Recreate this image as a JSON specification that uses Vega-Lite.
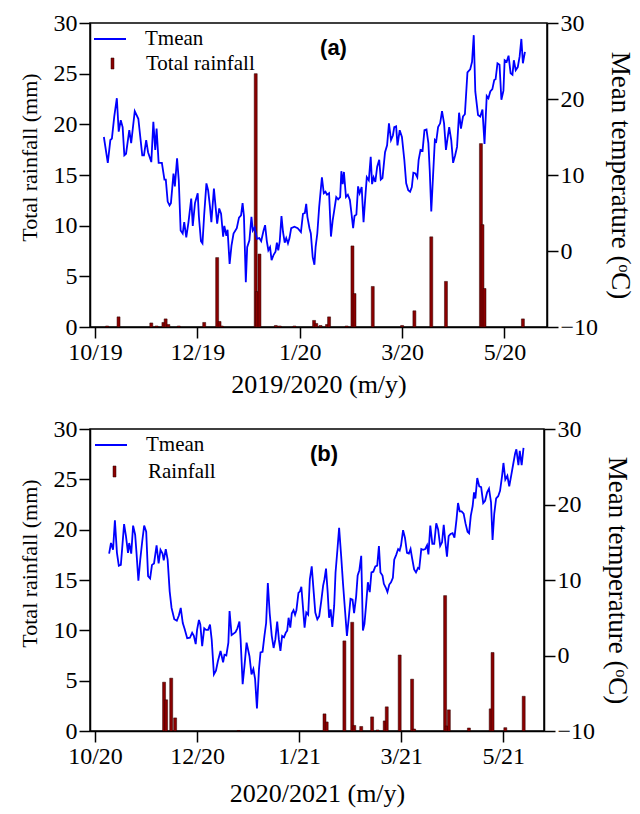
{
  "$schema": "https://vega.github.io/schema/vega-lite/v6.json",
  "background": "white",
  "padding": {"left": 17, "top": 10, "right": 5, "bottom": 5},
  "config": {
    "font": "Liberation Serif",
    "view": {"stroke": "black", "strokeWidth": 1.5},
    "axis": {
      "labelFont": "Liberation Serif", "titleFont": "Liberation Serif",
      "labelFontSize": 24, "titleFontSize": 23, "titleFontWeight": "normal",
      "labelColor": "black", "titleColor": "black", "domainColor": "black", "tickColor": "black",
      "grid": false, "tickSize": 11, "domainWidth": 1.5, "tickWidth": 1.5, "labelPadding": 2
    },
    "legend": {"labelFont": "Liberation Serif", "labelFontSize": 21, "labelColor": "black", "padding": 0, "title": null}
  },
  "spacing": 18,
  "resolve": {"scale": {"x": "independent", "y": "independent", "fill": "independent", "stroke": "independent"}},
  "datasets": {
    "tempA": [
      {"d":5.2,"t":15.0},{"d":7.5,"t":11.6},{"d":9.0,"t":14.6},{"d":9.9,"t":14.8},{"d":11.3,"t":17.7},{"d":12.8,"t":20.1},{"d":13.9,"t":15.7},{"d":15.1,"t":17.2},{"d":16.2,"t":16.3},{"d":17.2,"t":12.6},{"d":18.2,"t":12.8},{"d":20.1,"t":15.9},{"d":21.2,"t":14.2},{"d":23.3,"t":18.4},{"d":25.4,"t":17.4},{"d":27.7,"t":12.6},{"d":28.7,"t":12.6},{"d":30.0,"t":14.6},{"d":31.1,"t":13.0},{"d":33.0,"t":11.7},{"d":34.2,"t":17.0},{"d":35.3,"t":13.3},{"d":36.1,"t":16.1},{"d":37.3,"t":11.6},{"d":39.2,"t":11.6},{"d":40.7,"t":9.4},{"d":41.5,"t":9.4},{"d":42.6,"t":6.5},{"d":43.7,"t":6.0},{"d":44.5,"t":6.3},{"d":46.0,"t":10.2},{"d":46.8,"t":8.5},{"d":48.1,"t":12.2},{"d":49.1,"t":9.3},{"d":50.2,"t":2.7},{"d":51.4,"t":2.3},{"d":52.3,"t":3.8},{"d":53.5,"t":1.8},{"d":54.8,"t":3.8},{"d":56.4,"t":6.9},{"d":57.3,"t":3.3},{"d":58.6,"t":6.3},{"d":60.2,"t":7.6},{"d":60.9,"t":4.5},{"d":62.1,"t":1.3},{"d":63.0,"t":1.0},{"d":64.0,"t":4.8},{"d":65.3,"t":8.9},{"d":66.3,"t":8.0},{"d":67.4,"t":5.8},{"d":68.2,"t":3.8},{"d":69.7,"t":8.2},{"d":71.6,"t":3.6},{"d":72.8,"t":5.6},{"d":73.9,"t":4.9},{"d":75.1,"t":1.9},{"d":75.8,"t":3.3},{"d":77.0,"t":2.0},{"d":77.7,"t":2.8},{"d":78.9,"t":-1.7},{"d":80.0,"t":0.7},{"d":81.2,"t":2.3},{"d":83.1,"t":3.0},{"d":84.4,"t":4.4},{"d":85.6,"t":4.7},{"d":86.5,"t":6.3},{"d":87.3,"t":4.6},{"d":88.4,"t":-4.1},{"d":89.2,"t":0.5},{"d":90.5,"t":1.4},{"d":91.7,"t":4.5},{"d":92.5,"t":2.7},{"d":93.6,"t":3.1},{"d":94.9,"t":1.6},{"d":96.3,"t":1.7},{"d":97.4,"t":1.3},{"d":98.8,"t":2.7},{"d":99.7,"t":3.4},{"d":100.7,"t":1.3},{"d":101.6,"t":0.1},{"d":102.6,"t":0.5},{"d":103.5,"t":-1.2},{"d":104.7,"t":-0.5},{"d":105.8,"t":-0.1},{"d":106.6,"t":1.1},{"d":107.4,"t":0.1},{"d":108.3,"t":1.3},{"d":109.3,"t":4.6},{"d":110.2,"t":2.5},{"d":111.2,"t":1.1},{"d":112.1,"t":1.7},{"d":113.1,"t":1.0},{"d":114.0,"t":1.7},{"d":115.0,"t":3.0},{"d":116.9,"t":3.2},{"d":118.8,"t":3.0},{"d":120.7,"t":2.5},{"d":121.9,"t":4.9},{"d":123.0,"t":5.0},{"d":123.8,"t":6.2},{"d":124.5,"t":4.5},{"d":125.7,"t":3.0},{"d":126.5,"t":2.3},{"d":127.6,"t":-0.8},{"d":128.6,"t":-1.8},{"d":129.3,"t":0.5},{"d":130.3,"t":2.3},{"d":131.4,"t":5.8},{"d":133.0,"t":9.7},{"d":134.1,"t":7.6},{"d":135.1,"t":7.8},{"d":136.0,"t":7.4},{"d":137.2,"t":7.6},{"d":138.3,"t":1.9},{"d":139.3,"t":4.0},{"d":140.2,"t":5.3},{"d":141.4,"t":7.1},{"d":142.5,"t":6.8},{"d":143.7,"t":7.1},{"d":144.4,"t":10.5},{"d":145.2,"t":8.8},{"d":145.9,"t":10.4},{"d":147.1,"t":7.1},{"d":148.2,"t":7.4},{"d":149.4,"t":6.7},{"d":150.3,"t":5.0},{"d":151.3,"t":3.0},{"d":152.1,"t":4.6},{"d":153.2,"t":4.8},{"d":154.2,"t":8.5},{"d":155.1,"t":7.6},{"d":156.3,"t":8.4},{"d":157.4,"t":3.8},{"d":158.6,"t":7.6},{"d":159.3,"t":9.7},{"d":160.5,"t":9.3},{"d":161.6,"t":12.4},{"d":162.4,"t":8.8},{"d":163.3,"t":9.7},{"d":164.3,"t":9.1},{"d":165.4,"t":11.1},{"d":166.6,"t":12.0},{"d":167.5,"t":9.4},{"d":168.5,"t":9.6},{"d":170.0,"t":13.0},{"d":171.2,"t":13.9},{"d":172.3,"t":16.8},{"d":173.5,"t":14.6},{"d":174.6,"t":15.2},{"d":175.4,"t":16.3},{"d":176.5,"t":16.4},{"d":177.3,"t":13.9},{"d":178.6,"t":15.9},{"d":179.9,"t":15.0},{"d":181.3,"t":12.0},{"d":182.4,"t":8.9},{"d":183.6,"t":8.0},{"d":184.7,"t":7.8},{"d":185.7,"t":8.4},{"d":186.6,"t":10.3},{"d":187.8,"t":10.2},{"d":188.9,"t":9.7},{"d":189.7,"t":12.0},{"d":190.8,"t":13.3},{"d":192.0,"t":13.2},{"d":193.1,"t":15.9},{"d":194.3,"t":16.0},{"d":195.4,"t":14.2},{"d":196.2,"t":10.6},{"d":197.1,"t":5.2},{"d":198.1,"t":9.7},{"d":199.2,"t":14.6},{"d":200.0,"t":14.4},{"d":201.1,"t":16.3},{"d":202.3,"t":16.8},{"d":203.4,"t":18.4},{"d":204.6,"t":16.8},{"d":205.7,"t":13.3},{"d":206.5,"t":14.6},{"d":207.6,"t":16.3},{"d":208.8,"t":14.6},{"d":209.9,"t":11.6},{"d":211.1,"t":12.6},{"d":212.2,"t":13.7},{"d":213.4,"t":18.2},{"d":214.5,"t":16.1},{"d":215.7,"t":17.7},{"d":216.8,"t":18.0},{"d":218.3,"t":23.5},{"d":219.9,"t":23.9},{"d":221.0,"t":24.9},{"d":222.0,"t":28.4},{"d":222.9,"t":21.0},{"d":224.5,"t":17.9},{"d":225.8,"t":17.7},{"d":227.1,"t":18.6},{"d":228.3,"t":14.1},{"d":229.6,"t":20.4},{"d":230.6,"t":20.1},{"d":231.7,"t":21.0},{"d":232.9,"t":21.3},{"d":234.0,"t":22.5},{"d":234.8,"t":22.6},{"d":235.9,"t":24.7},{"d":237.1,"t":24.5},{"d":238.2,"t":19.9},{"d":239.4,"t":21.1},{"d":240.1,"t":25.1},{"d":241.3,"t":24.9},{"d":242.4,"t":25.7},{"d":243.6,"t":23.4},{"d":244.7,"t":23.2},{"d":245.5,"t":25.1},{"d":246.6,"t":23.8},{"d":247.8,"t":24.2},{"d":248.9,"t":25.6},{"d":249.9,"t":27.9},{"d":250.8,"t":24.7},{"d":252.0,"t":26.2}
    ],
    "rainA": [
      {"d":7.1,"r":0.1},{"d":13.8,"r":1.0},{"d":33.0,"r":0.4},{"d":36.1,"r":0.1},{"d":40.1,"r":0.45},{"d":41.4,"r":0.8},{"d":43.0,"r":0.25},{"d":49.1,"r":0.1},{"d":64.0,"r":0.45},{"d":71.6,"r":6.85},{"d":73.0,"r":0.55},{"d":74.3,"r":0.1},{"d":94.2,"r":25.0},{"d":94.9,"r":3.5},{"d":96.4,"r":7.2},{"d":106.0,"r":0.15},{"d":108.3,"r":0.1},{"d":116.9,"r":0.1},{"d":128.4,"r":0.65},{"d":129.7,"r":0.35},{"d":132.2,"r":0.15},{"d":136.0,"r":0.25},{"d":137.2,"r":1.0},{"d":147.5,"r":0.1},{"d":150.9,"r":8.0},{"d":152.1,"r":3.3},{"d":162.8,"r":4.0},{"d":180.0,"r":0.15},{"d":187.2,"r":1.6},{"d":197.1,"r":8.9},{"d":205.7,"r":4.5},{"d":226.2,"r":18.1},{"d":227.1,"r":10.1},{"d":228.3,"r":3.8},{"d":250.8,"r":0.8}
    ],
    "tempB": [
      {"d":8.3,"t":13.5},{"d":9.4,"t":14.9},{"d":10.6,"t":14.0},{"d":11.7,"t":17.9},{"d":12.9,"t":13.6},{"d":14.0,"t":11.9},{"d":15.2,"t":12.0},{"d":17.1,"t":17.4},{"d":18.2,"t":15.8},{"d":19.4,"t":13.6},{"d":20.1,"t":14.9},{"d":21.3,"t":13.5},{"d":22.4,"t":17.2},{"d":23.6,"t":16.0},{"d":24.4,"t":13.6},{"d":25.5,"t":9.9},{"d":26.6,"t":12.7},{"d":27.8,"t":15.2},{"d":28.9,"t":17.2},{"d":30.1,"t":16.4},{"d":31.2,"t":10.5},{"d":32.4,"t":10.2},{"d":33.5,"t":12.0},{"d":34.7,"t":12.2},{"d":36.2,"t":14.6},{"d":37.4,"t":12.2},{"d":38.5,"t":14.0},{"d":39.7,"t":13.5},{"d":40.4,"t":12.6},{"d":41.6,"t":14.1},{"d":42.7,"t":12.7},{"d":43.9,"t":8.5},{"d":45.0,"t":6.3},{"d":46.6,"t":4.8},{"d":48.1,"t":4.6},{"d":49.3,"t":5.3},{"d":50.4,"t":6.3},{"d":51.6,"t":4.3},{"d":52.7,"t":3.5},{"d":54.2,"t":2.3},{"d":55.8,"t":2.35},{"d":57.1,"t":3.0},{"d":58.1,"t":2.6},{"d":59.2,"t":1.5},{"d":60.0,"t":3.4},{"d":61.1,"t":4.7},{"d":61.9,"t":4.1},{"d":63.0,"t":1.25},{"d":64.2,"t":3.6},{"d":65.3,"t":3.4},{"d":66.5,"t":3.4},{"d":67.6,"t":4.1},{"d":68.6,"t":2.1},{"d":69.9,"t":-2.5},{"d":71.1,"t":-2.0},{"d":72.2,"t":-0.8},{"d":73.8,"t":0.6},{"d":75.3,"t":-0.9},{"d":76.1,"t":0.1},{"d":77.2,"t":0.0},{"d":78.4,"t":1.7},{"d":79.1,"t":5.9},{"d":80.3,"t":2.7},{"d":82.6,"t":3.1},{"d":83.7,"t":3.6},{"d":84.9,"t":4.5},{"d":85.6,"t":2.1},{"d":86.8,"t":-3.8},{"d":87.9,"t":-1.3},{"d":89.1,"t":1.7},{"d":90.8,"t":-0.1},{"d":92.0,"t":-2.5},{"d":93.1,"t":-1.8},{"d":94.1,"t":-3.1},{"d":95.2,"t":-7.0},{"d":96.4,"t":-1.8},{"d":97.3,"t":0.4},{"d":98.5,"t":0.5},{"d":99.6,"t":2.6},{"d":100.6,"t":4.3},{"d":101.6,"t":9.6},{"d":102.7,"t":5.6},{"d":103.9,"t":2.6},{"d":105.0,"t":1.0},{"d":106.0,"t":2.1},{"d":107.1,"t":4.5},{"d":108.1,"t":2.1},{"d":109.0,"t":0.6},{"d":110.0,"t":2.6},{"d":111.1,"t":2.4},{"d":112.1,"t":3.0},{"d":113.0,"t":3.3},{"d":113.8,"t":5.0},{"d":114.8,"t":3.7},{"d":115.7,"t":5.6},{"d":116.7,"t":6.0},{"d":117.6,"t":5.4},{"d":118.4,"t":6.0},{"d":119.6,"t":8.3},{"d":120.5,"t":8.5},{"d":121.3,"t":9.1},{"d":123.2,"t":3.7},{"d":124.2,"t":5.7},{"d":125.3,"t":5.4},{"d":126.3,"t":10.1},{"d":127.4,"t":11.8},{"d":128.6,"t":8.3},{"d":129.5,"t":5.7},{"d":130.7,"t":4.8},{"d":131.8,"t":5.2},{"d":133.0,"t":7.2},{"d":134.1,"t":9.25},{"d":134.9,"t":10.1},{"d":135.8,"t":11.5},{"d":136.8,"t":8.3},{"d":137.6,"t":5.0},{"d":138.5,"t":6.1},{"d":139.5,"t":3.8},{"d":140.6,"t":6.6},{"d":141.4,"t":11.0},{"d":142.5,"t":14.0},{"d":143.5,"t":16.9},{"d":144.7,"t":13.2},{"d":145.8,"t":9.5},{"d":147.0,"t":5.9},{"d":148.1,"t":2.6},{"d":149.1,"t":4.8},{"d":150.2,"t":7.5},{"d":151.4,"t":7.4},{"d":152.3,"t":5.6},{"d":153.5,"t":7.8},{"d":154.4,"t":10.6},{"d":155.4,"t":11.3},{"d":156.5,"t":13.2},{"d":157.5,"t":3.3},{"d":158.4,"t":4.2},{"d":159.4,"t":6.8},{"d":160.4,"t":9.7},{"d":161.5,"t":8.4},{"d":162.5,"t":11.0},{"d":163.6,"t":11.1},{"d":164.8,"t":11.8},{"d":165.9,"t":11.9},{"d":166.9,"t":14.5},{"d":167.8,"t":11.0},{"d":169.0,"t":10.6},{"d":169.8,"t":9.5},{"d":170.9,"t":9.0},{"d":171.9,"t":8.4},{"d":173.0,"t":9.4},{"d":174.0,"t":9.7},{"d":175.1,"t":10.3},{"d":175.9,"t":12.7},{"d":177.0,"t":13.3},{"d":178.2,"t":14.1},{"d":179.1,"t":13.9},{"d":179.9,"t":14.6},{"d":181.1,"t":16.6},{"d":182.2,"t":15.6},{"d":183.4,"t":13.6},{"d":184.5,"t":13.5},{"d":185.5,"t":14.1},{"d":186.4,"t":12.9},{"d":187.6,"t":11.4},{"d":188.7,"t":11.0},{"d":189.9,"t":11.6},{"d":190.6,"t":11.5},{"d":191.8,"t":14.1},{"d":192.9,"t":14.0},{"d":194.1,"t":14.1},{"d":195.2,"t":14.6},{"d":196.0,"t":13.4},{"d":197.1,"t":17.2},{"d":198.3,"t":14.8},{"d":199.4,"t":14.8},{"d":200.6,"t":17.5},{"d":201.7,"t":16.7},{"d":202.9,"t":14.5},{"d":204.0,"t":15.0},{"d":205.0,"t":17.3},{"d":206.0,"t":14.9},{"d":206.9,"t":13.1},{"d":207.9,"t":15.8},{"d":209.0,"t":16.1},{"d":210.2,"t":16.2},{"d":211.3,"t":15.6},{"d":212.5,"t":18.0},{"d":213.4,"t":20.2},{"d":214.4,"t":19.1},{"d":215.5,"t":19.1},{"d":216.7,"t":18.8},{"d":217.8,"t":17.5},{"d":219.0,"t":16.4},{"d":219.9,"t":16.2},{"d":220.9,"t":18.5},{"d":222.0,"t":19.8},{"d":222.8,"t":21.6},{"d":223.6,"t":20.8},{"d":224.7,"t":23.5},{"d":225.9,"t":22.4},{"d":227.0,"t":22.3},{"d":228.2,"t":20.2},{"d":229.3,"t":20.5},{"d":230.5,"t":21.6},{"d":231.6,"t":22.1},{"d":232.8,"t":20.3},{"d":233.7,"t":15.3},{"d":234.7,"t":18.8},{"d":235.8,"t":20.8},{"d":237.0,"t":21.1},{"d":238.1,"t":21.8},{"d":239.3,"t":23.8},{"d":240.1,"t":25.5},{"d":241.2,"t":23.3},{"d":242.4,"t":23.8},{"d":243.5,"t":22.4},{"d":244.7,"t":23.9},{"d":245.8,"t":25.3},{"d":247.0,"t":26.8},{"d":247.7,"t":27.3},{"d":248.9,"t":25.2},{"d":249.7,"t":27.1},{"d":250.8,"t":25.2},{"d":251.9,"t":27.5}
    ],
    "rainB": [
      {"d":40.6,"r":4.85},{"d":41.8,"r":3.1},{"d":44.8,"r":5.25},{"d":47.1,"r":1.3},{"d":84.5,"r":0.05},{"d":134.9,"r":1.7},{"d":136.2,"r":0.9},{"d":146.6,"r":8.95},{"d":151.2,"r":10.8},{"d":152.4,"r":0.55},{"d":156.5,"r":0.45},{"d":162.9,"r":1.4},{"d":166.1,"r":0.1},{"d":170.3,"r":1.0},{"d":171.5,"r":2.4},{"d":179.1,"r":7.55},{"d":186.4,"r":5.15},{"d":187.6,"r":0.2},{"d":205.8,"r":13.45},{"d":206.7,"r":0.5},{"d":208.0,"r":2.1},{"d":219.8,"r":0.3},{"d":232.6,"r":2.2},{"d":233.7,"r":7.8},{"d":241.2,"r":0.33},{"d":252.0,"r":3.45}
    ]
  },
  "vconcat": [
    {
      "width": 457, "height": 304,
      "title": {"text": "(a)", "font": "Liberation Sans", "fontSize": 22, "fontWeight": "bold", "color": "black", "anchor": "middle", "dx": 15, "offset": -49},
      "layer": [
        {
          "data": {"name": "rainA"},
          "mark": {"type": "bar", "size": 3, "stroke": "#2a0000", "strokeWidth": 0.5},
          "encoding": {
            "x": {"field": "d", "type": "quantitative", "scale": {"domain": [0, 262], "nice": false, "zero": false},
                  "axis": {"values": [0, 60, 120, 180, 240], "labelExpr": "['10/19','12/19','1/20','3/20','5/20'][round(datum.value/60)]", "title": "2019/2020 (m/y)", "titleFontSize": 26, "titlePadding": 7, "labelFlush": false}},
            "y": {"field": "r", "type": "quantitative", "scale": {"domain": [0, 30], "nice": false},
                  "axis": {"values": [0, 5, 10, 15, 20, 25, 30], "title": "Total rainfall (mm)", "titleFontSize": 22, "titleY": 134, "orient": "left", "titlePadding": 12, "labelFlush": false}},
            "fill": {"datum": "Total rainfall", "type": "nominal", "scale": {"range": ["#8B0000"]},
                     "legend": {"orient": "none", "legendX": 12, "legendY": 30, "symbolType": "M-0.23,-0.85H0.23V0.85H-0.23Z", "symbolSize": 169, "labelOffset": 23, "symbolStrokeColor": "#2a0000", "symbolStrokeWidth": 0.5}}
          }
        },
        {
          "data": {"name": "tempA"},
          "mark": {"type": "line", "strokeWidth": 1.8},
          "encoding": {
            "x": {"field": "d", "type": "quantitative"},
            "y": {"field": "t", "type": "quantitative", "scale": {"domain": [-10, 30], "nice": false},
                  "axis": {"values": [-10, 0, 10, 20, 30], "title": "Mean temperature (ᵒC)", "titleFontSize": 27, "orient": "right", "titlePadding": 8, "labelFlush": false}},
            "stroke": {"datum": "Tmean", "type": "nominal", "scale": {"range": ["#0000FF"]},
                       "legend": {"orient": "none", "legendX": 3, "legendY": -1, "symbolType": "stroke", "symbolSize": 1024, "symbolStrokeWidth": 2, "labelOffset": 18}}
          }
        }
      ],
      "resolve": {"scale": {"y": "independent"}}
    },
    {
      "width": 454, "height": 302,
      "title": {"text": "(b)", "font": "Liberation Sans", "fontSize": 22, "fontWeight": "bold", "color": "black", "anchor": "middle", "dx": 7, "offset": -49},
      "layer": [
        {
          "data": {"name": "rainB"},
          "mark": {"type": "bar", "size": 3, "stroke": "#2a0000", "strokeWidth": 0.5},
          "encoding": {
            "x": {"field": "d", "type": "quantitative", "scale": {"domain": [0, 261], "nice": false, "zero": false},
                  "axis": {"values": [0, 60, 120, 180, 240], "labelExpr": "['10/20','12/20','1/21','3/21','5/21'][round(datum.value/60)]", "title": "2020/2021 (m/y)", "titleFontSize": 26, "titlePadding": 12, "labelFlush": false}},
            "y": {"field": "r", "type": "quantitative", "scale": {"domain": [0, 30], "nice": false},
                  "axis": {"values": [0, 5, 10, 15, 20, 25, 30], "title": "Total rainfall (mm)", "titleFontSize": 22, "titleY": 134, "orient": "left", "titlePadding": 12, "labelFlush": false}},
            "fill": {"datum": "Rainfall", "type": "nominal", "scale": {"range": ["#8B0000"]},
                     "legend": {"orient": "none", "legendX": 14, "legendY": 32, "symbolType": "M-0.23,-0.85H0.23V0.85H-0.23Z", "symbolSize": 169, "labelOffset": 23, "symbolStrokeColor": "#2a0000", "symbolStrokeWidth": 0.5}}
          }
        },
        {
          "data": {"name": "tempB"},
          "mark": {"type": "line", "strokeWidth": 1.8},
          "encoding": {
            "x": {"field": "d", "type": "quantitative"},
            "y": {"field": "t", "type": "quantitative", "scale": {"domain": [-10, 30], "nice": false},
                  "axis": {"values": [-10, 0, 10, 20, 30], "title": "Mean temperature (ᵒC)", "titleFontSize": 27, "orient": "right", "titlePadding": 8, "labelFlush": false}},
            "stroke": {"datum": "Tmean", "type": "nominal", "scale": {"range": ["#0000FF"]},
                       "legend": {"orient": "none", "legendX": 4, "legendY": -1, "symbolType": "stroke", "symbolSize": 1024, "symbolStrokeWidth": 2, "labelOffset": 18}}
          }
        }
      ],
      "resolve": {"scale": {"y": "independent"}}
    }
  ]
}
